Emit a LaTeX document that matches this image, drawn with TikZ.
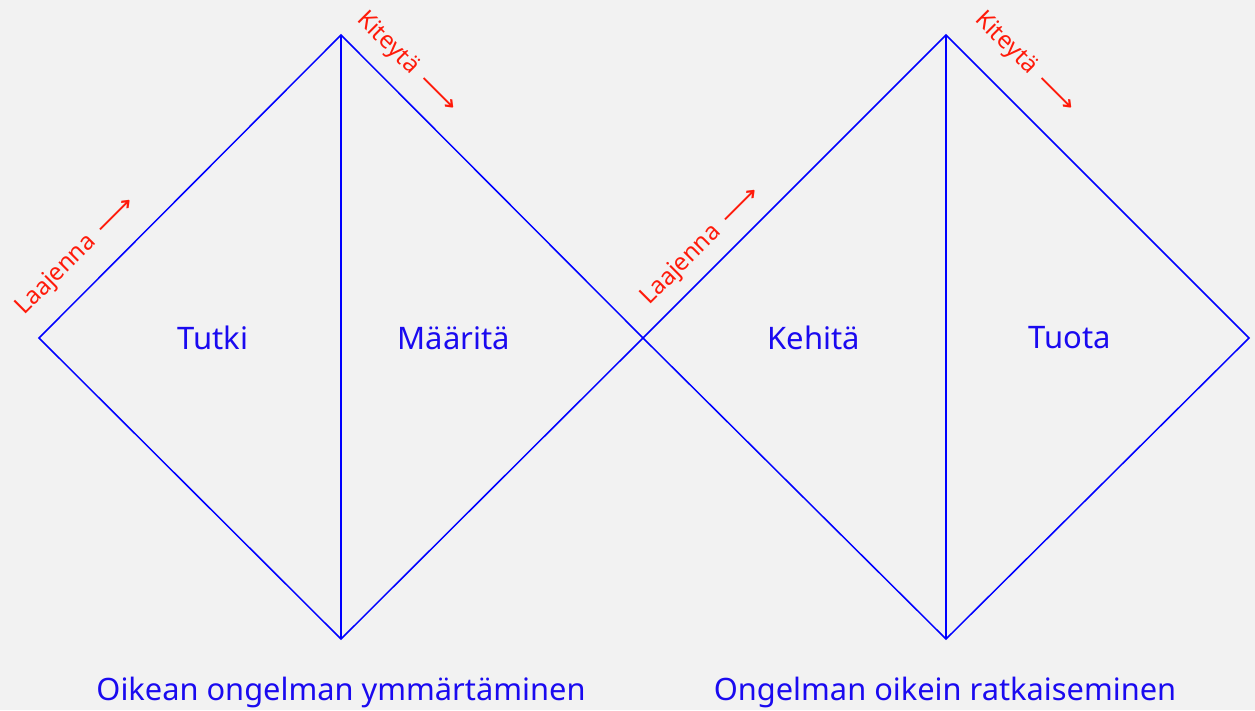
\documentclass[tikz,border=0pt]{standalone}
\usepackage{fontspec}
\setmainfont{Noto Sans}
\newfontfamily\symfont{DejaVu Sans}
\definecolor{bgc}{HTML}{F2F2F2}
\definecolor{lineblue}{HTML}{0000FF}
\definecolor{txtblue}{HTML}{1A0AF0}
\definecolor{lblred}{HTML}{FF1A0A}
\newcommand{\longarr}{{\symfont\scalebox{1.3}[1]{⟶}}}
\begin{document}
\begin{tikzpicture}[x=1pt,y=-1pt,
  edge/.style={draw=lineblue,line width=1.5pt},
  phase/.style={text=txtblue,font=\fontsize{31}{35}\selectfont,inner sep=0pt},
  caption/.style={text=txtblue,font=\fontsize{30.8}{35}\selectfont,inner sep=0pt},
  side/.style={text=lblred,font=\fontsize{24}{28}\selectfont,inner sep=0pt}]
\fill[bgc] (0,0) rectangle (1255,710);
\useasboundingbox (0,0) rectangle (1255,710);
\coordinate (L1) at (39,338);
\coordinate (T1) at (341,35);
\coordinate (B1) at (341,639);
\coordinate (M) at (643,338);
\coordinate (T2) at (946,35);
\coordinate (B2) at (946,639);
\coordinate (R2) at (1249,338);
\draw[edge,line join=miter] (L1) -- (T1) -- (M) -- (B1) -- cycle;
\draw[edge] (T1) -- (B1);
\draw[edge,line join=miter] (M) -- (T2) -- (R2) -- (B2) -- cycle;
\draw[edge] (T2) -- (B2);
\node[phase] (tutki) at (213,338) {Tutki};
\node[phase] (maarita) at (454,338) {Määritä};
\node[phase] (kehita) at (814,338) {Kehitä};
\node[phase] (tuota) at (1070,338) {Tuota};
\node[caption] (cap1) at (341,692) {Oikean ongelman ymmärtäminen};
\node[caption] (cap2) at (945,692) {Ongelman oikein ratkaiseminen};
\node[side,rotate=45] (laa1) at (76,256) {Laajenna\, \longarr};
\node[side,rotate=45] (laa2) at (701,246) {Laajenna\, \longarr};
\node[side,rotate=-45] (kit1) at (407,63) {Kiteytä\, \longarr};
\node[side,rotate=-45] (kit2) at (1025,63) {Kiteytä\, \longarr};
\end{tikzpicture}
\end{document}
